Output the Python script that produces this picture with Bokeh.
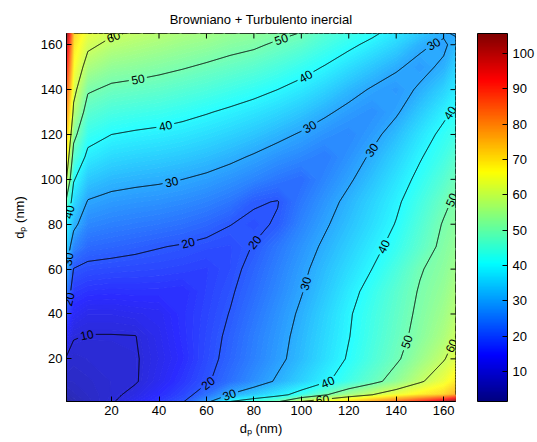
import numpy as np
import contourpy
from bokeh.plotting import figure
from bokeh.models import ColorBar, LinearColorMapper, FixedTicker, Range1d
from bokeh.core.properties import value
from bokeh.embed import file_html
from bokeh.resources import INLINE

# ---------------- data ----------------
dp_nm = [1, 4, 10, 20, 30, 40, 50, 60, 70, 80, 90, 100, 110, 120, 130, 140, 150, 160, 165]
# one list per row (y = d_p), values along x = d_p
k_y001 = [1.5, 5.5, 7, 9.5, 12.9, 16.2, 19.5, 28, 40, 44.5, 49, 60, 65.5, 71, 77, 83, 90, 98, 105.5]
k_y004 = [5.5, 6.5, 7.5, 9, 11.3, 14.7, 17.8, 23, 30.4, 34, 37.8, 42.7, 49.4, 55.3, 60, 64.5, 68.5, 72, 76]
k_y010 = [7.5, 7.5, 8, 9, 9.6, 12.7, 16, 19.3, 23, 26.9, 30.8, 34.9, 39, 43.4, 47.8, 53, 59, 64.5, 69]
k_y020 = [9.5, 8.5, 9, 9.2, 9.6, 12, 14.7, 18.3, 21.6, 25.1, 28.6, 32.4, 36.5, 40.6, 44.8, 49, 54.3, 59.5, 63]
k_y030 = [13.8, 10.3, 9.8, 9.8, 9.9, 12.4, 15.2, 18, 21, 24.6, 28, 31.8, 35.8, 39.8, 43.9, 47.9, 52, 56.5, 60]
k_y040 = [18.6, 13.5, 12, 12, 12.5, 13, 15.4, 17.6, 20.2, 23.6, 27.2, 30.9, 35.1, 39.4, 43.3, 47.2, 51.2, 55, 58]
k_y050 = [24.7, 16.6, 15.5, 15.2, 15.4, 15.3, 15, 17.2, 19.4, 22.5, 26, 29.7, 33.7, 38.1, 42.2, 46.4, 50.5, 53.7, 56.5]
k_y060 = [30, 19.8, 18.8, 18.4, 18.1, 17.9, 17.5, 17, 18.6, 21.5, 25, 28.7, 32.5, 36.3, 40.1, 44.5, 49.5, 52.5, 55]
k_y070 = [34.5, 26, 22.3, 21.7, 21, 20.2, 19.6, 18.8, 18.5, 20.2, 23.8, 27.4, 31, 34.6, 38.3, 42, 46.8, 51.5, 53.5]
k_y080 = [39, 31.7, 26, 25, 24.4, 23.8, 23, 21.8, 20.1, 19, 20.5, 25.5, 29.3, 32.9, 36.5, 40.3, 45.3, 50.5, 52.3]
k_y090 = [48, 36, 29.6, 28.3, 27.7, 27.2, 26.4, 25.3, 23.7, 20.5, 19.8, 24, 27.7, 31.5, 35.2, 39, 43.6, 48.6, 51]
k_y100 = [60, 40.6, 33.9, 32, 31.3, 30.8, 30, 28.9, 27.4, 25.7, 23.8, 22.5, 25.8, 29.2, 33.1, 37.2, 41.5, 46, 49]
k_y110 = [66.5, 46.5, 38.3, 36, 35.2, 34.6, 33.8, 32.7, 31.2, 29.4, 27.4, 26, 24.5, 27.3, 30.9, 35, 39.5, 43.5, 46.5]
k_y120 = [73, 52.3, 42.4, 40, 39.2, 38.6, 37.7, 36.5, 35.1, 33.5, 31.5, 29.4, 27.3, 26, 28.5, 32.4, 37.2, 41.5, 43.5]
k_y130 = [79, 58.2, 46.5, 44.3, 43.5, 42.8, 41.7, 40.4, 39, 37.5, 35.7, 33.6, 30.9, 28.5, 27, 29.3, 34, 38.7, 41]
k_y140 = [85, 62.5, 50.8, 48.7, 48, 47.2, 46, 44.8, 43.3, 41.8, 40, 37.9, 35.2, 32, 29.4, 28, 30.7, 35, 38]
k_y150 = [91.5, 66.5, 56.5, 53.3, 52.5, 51.5, 50.4, 49.1, 47.8, 46.4, 44.5, 42.2, 39.6, 36.5, 33.5, 30.6, 28.5, 31, 35]
k_y160 = [99, 70, 61.5, 58.3, 57, 55.8, 54.5, 53.5, 52, 51, 49, 47, 44, 41.3, 38.4, 35.3, 31, 29, 32]
k_y165 = [105.7, 72, 64, 60.8, 59.2, 58, 56.5, 55.6, 54, 53, 51.5, 49.7, 46, 43.5, 41, 37.6, 34, 30.8, 29.3]

axis_ticks = [20, 40, 60, 80, 100, 120, 140, 160]
cbar_ticks = [10, 20, 30, 40, 50, 60, 70, 80, 90, 100]
contour_levels = [10, 20, 30, 40, 50, 60]
title_text = "Browniano + Turbulento inercial"
axis_label_text = "d\u209a (nm)"

Z = np.array([k_y001, k_y004, k_y010, k_y020, k_y030, k_y040, k_y050, k_y060, k_y070,
              k_y080, k_y090, k_y100, k_y110, k_y120, k_y130, k_y140, k_y150, k_y160, k_y165],
             dtype=float)
X = np.array(dp_nm, dtype=float)
Y = np.array(dp_nm, dtype=float)

# ---------------- style ----------------
FONT = "Liberation Sans"
W, H = 537, 442
LEFT, TOP, BOTTOM = 66, 33, 41
FRAME_W = 392
FRAME_H = H - TOP - BOTTOM
RIGHT = W - LEFT - FRAME_W
X0, X1 = 1, 165


def jet_rgb(t):
    t = float(np.clip(t, 0, 1))
    r = np.clip(1.5 - abs(4 * t - 3), 0, 1)
    g = np.clip(1.5 - abs(4 * t - 2), 0, 1)
    b = np.clip(1.5 - abs(4 * t - 1), 0, 1)
    return r, g, b


def to_hex(rgb, white=0.0):
    r, g, b = [c * (1 - white) + white for c in rgb]
    return "#%02x%02x%02x" % (int(round(r * 255)), int(round(g * 255)), int(round(b * 255)))


zmin, zmax = float(Z.min()), float(Z.max())
palette = [to_hex(jet_rgb(i / 255.0)) for i in range(256)]
WASH = 0.17  # light mesh sheen of the surface rendering

p = figure(width=W, height=H, x_range=Range1d(X0, X1), y_range=Range1d(X0, X1),
           output_backend="svg", toolbar_location=None,
           min_border_left=LEFT, min_border_top=TOP, min_border_bottom=BOTTOM,
           min_border_right=RIGHT, title=title_text)
p.background_fill_color = "white"
p.border_fill_color = "white"
p.outline_line_color = "black"
p.grid.visible = False

p.title.align = "center"
p.title.text_font = FONT
p.title.text_font_size = "13px"
p.title.text_font_style = "normal"
p.title.text_color = "black"
p.title.standoff = 14

# filled background
nb = 140
fill_levels = np.linspace(zmin - 1e-6, zmax + 1e-6, nb + 1)
mids = 0.5 * (fill_levels[:-1] + fill_levels[1:])
fill_colors = [to_hex(jet_rgb((m - zmin) / (zmax - zmin)), WASH) for m in mids]
line_colors = [to_hex(jet_rgb((l - zmin) / (zmax - zmin)), WASH) for l in fill_levels]
p.contour(x=X, y=Y, z=Z, levels=list(fill_levels), fill_color=fill_colors,
          line_color=line_colors, line_width=1.2)

# contour lines with inline labels
SX = FRAME_W / float(X1 - X0)
SY = FRAME_H / float(X1 - X0)
gen = contourpy.contour_generator(X, Y, Z, line_type="Separate")
LABEL_SPACING, GAP, MIN_LEN = 150.0, 9.0, 60.0
LABEL_START = {10: 32.0}
EDGE_SKIP_LEVEL = 50  # labels of these levels are not put on the crowded left edge
lxs, lys, tx, ty, tt, ta = [], [], [], [], [], []
for lev in contour_levels:
    for seg in gen.lines(lev):
        px = (seg[:, 0] - X0) * SX
        py = (seg[:, 1] - X0) * SY
        d = np.hypot(np.diff(px), np.diff(py))
        s = np.concatenate([[0.0], np.cumsum(d)])
        L = s[-1]
        if L < 2:
            continue
        ss = np.linspace(0, L, max(int(L * 2), 4) + 1)
        qx = np.interp(ss, s, px)
        qy = np.interp(ss, s, py)
        labs = []
        if L > MIN_LEN:
            sl = LABEL_START.get(lev, 10.0)
            while sl <= L - 3:
                labs.append(sl)
                sl += LABEL_SPACING
        keep = np.ones(len(ss), bool)
        for sl in labs:
            cx, cy = np.interp(sl, ss, qx), np.interp(sl, ss, qy)
            if lev >= EDGE_SKIP_LEVEL and cx < 6:
                continue
            keep &= np.abs(ss - sl) > GAP
            a0, a1 = max(sl - 5, 0), min(sl + 5, L)
            dx = np.interp(a1, ss, qx) - np.interp(a0, ss, qx)
            dy = np.interp(a1, ss, qy) - np.interp(a0, ss, qy)
            ang = np.arctan2(dy, dx)
            if ang > np.pi / 2:
                ang -= np.pi
            if ang < -np.pi / 2:
                ang += np.pi
            tx.append(cx / SX + X0)
            ty.append(cy / SY + X0)
            tt.append(str(int(lev)))
            ta.append(float(ang))
        idx = np.where(keep)[0]
        if len(idx) == 0:
            continue
        breaks = np.where(np.diff(idx) > 1)[0]
        starts = np.concatenate([[0], breaks + 1])
        ends = np.concatenate([breaks, [len(idx) - 1]])
        for a, b in zip(starts, ends):
            run = idx[a:b + 1]
            if len(run) < 2:
                continue
            lxs.append(list(qx[run] / SX + X0))
            lys.append(list(qy[run] / SY + X0))

p.multi_line(xs=lxs, ys=lys, line_color="black", line_width=1)
p.text(x=tx, y=ty, text=tt, angle=ta, text_align="center", text_baseline="middle",
       text_font=value(FONT), text_font_size="12px", text_color="black")

# axes (ticks inside, as in a boxed plot)
for ax in (p.xaxis[0], p.yaxis[0]):
    ax.ticker = FixedTicker(ticks=axis_ticks)
    ax.major_tick_in = 5
    ax.major_tick_out = 0
    ax.minor_tick_line_color = None
    ax.major_label_text_font = FONT
    ax.major_label_text_font_size = "13px"
    ax.major_label_text_color = "black"
    ax.axis_line_color = "black"
    ax.major_tick_line_color = "black"
    ax.axis_label = axis_label_text
    ax.axis_label_text_font = FONT
    ax.axis_label_text_font_size = "13px"
    ax.axis_label_text_font_style = "normal"
    ax.axis_label_text_color = "black"
    ax.major_label_standoff = 4
p.xaxis[0].axis_label_standoff = 3
p.yaxis[0].axis_label_standoff = 11

# tick marks on the top and right edges of the box
p.ray(x=axis_ticks, y=[X1] * len(axis_ticks), length=5, length_units="screen",
      angle=-np.pi / 2, line_color="black", line_width=1)
p.ray(x=[X1] * len(axis_ticks), y=axis_ticks, length=5, length_units="screen",
      angle=np.pi, line_color="black", line_width=1)

mapper = LinearColorMapper(palette=palette, low=zmin, high=zmax)
cb = ColorBar(color_mapper=mapper, ticker=FixedTicker(ticks=cbar_ticks), width=30, height=FRAME_H,
              location=(22, 0), padding=0, margin=0, label_standoff=5, major_tick_in=5,
              major_tick_out=0, major_tick_line_color="black", bar_line_color="black",
              border_line_color=None, background_fill_color=None, major_label_text_font=FONT,
              major_label_text_font_size="13px", major_label_text_color="black")
p.add_layout(cb, "right")

open("out.html", "w").write(file_html(p, INLINE))
